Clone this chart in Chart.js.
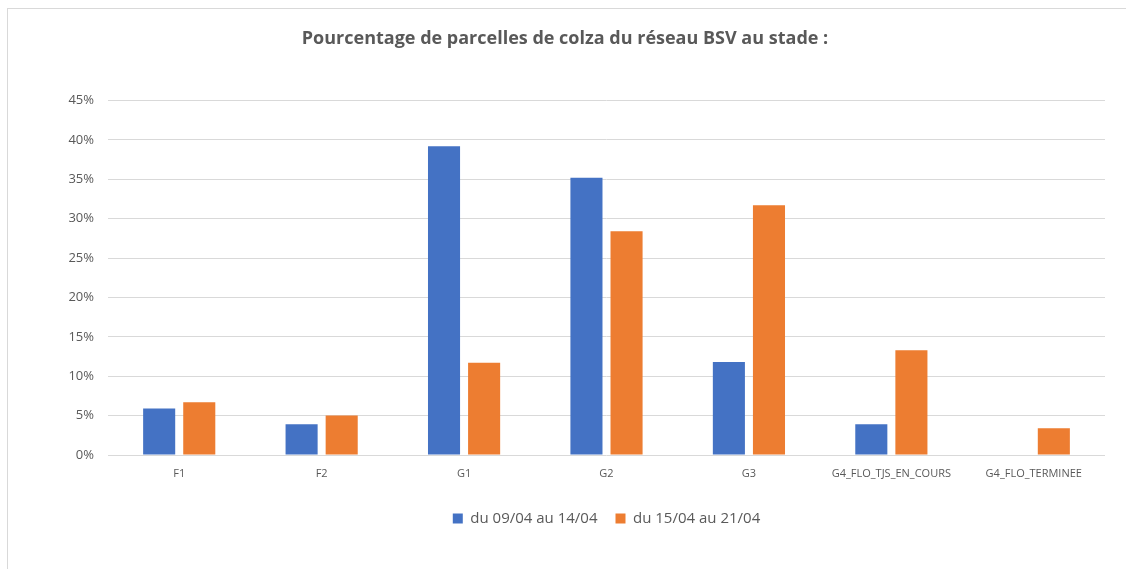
<!DOCTYPE html>
<html>
<head>
<meta charset="utf-8">
<script src="https://cdn.jsdelivr.net/npm/chart.js@4"></script>
<style>
  html, body { margin: 0; padding: 0; background: #fff; overflow: hidden; }
  #frame {
    position: absolute; left: 7px; top: 8px; width: 1130px; height: 570px;
    border-left: 1px solid #d9d9d9; border-top: 1px solid #d9d9d9;
  }
  #wrap { position: absolute; left: 0; top: 0; width: 1126px; height: 569px; }
</style>
</head>
<body>
<div id="frame"></div>
<div id="wrap"><canvas id="chart"></canvas></div>
<script>
// stades
const categories = ['F1', 'F2', 'G1', 'G2', 'G3', 'G4_FLO_TJS_EN_COURS', 'G4_FLO_TERMINEE']
const seriesNames = ['du 09/04 au 14/04', 'du 15/04 au 21/04']
// % de parcelles
const week1 = [5.9, 3.9, 39.2, 35.2, 11.8, 3.9, 0]
const week2 = [6.7, 5.0, 11.7, 28.4, 31.7, 13.3, 3.4]
const yTicks = [0, 5, 10, 15, 20, 25, 30, 35, 40, 45]

const grey = '#595959'
const font = "'Open Sans', 'Liberation Sans', sans-serif"

const data = {
    labels: categories,
    datasets: [{
        label: seriesNames[0],
        data: week1,
        backgroundColor: '#4472C4',
        categoryPercentage: 0.563,
        barPercentage: 0.8
    }, {
        label: seriesNames[1],
        data: week2,
        backgroundColor: '#ED7D31',
        categoryPercentage: 0.563,
        barPercentage: 0.8
    }]
}

const config = {
    type: 'bar',
    data: data,
    options: {
        responsive: false,
        animation: false,
        layout: {
            padding: { left: 25, right: 21, top: 0, bottom: 33 }
        },
        plugins: {
            title: {
                display: true,
                text: 'Pourcentage de parcelles de colza du réseau BSV au stade :',
                color: grey,
                font: { family: font, size: 18, weight: 'bold' },
                padding: { top: 28, bottom: 51 }
            },
            legend: {
                position: 'bottom',
                fullSize: false,
                labels: {
                    color: grey,
                    boxWidth: 10,
                    boxHeight: 10,
                    padding: 18,
                    font: { family: font, size: 15 }
                }
            },
            tooltip: { enabled: false }
        },
        scales: {
            x: {
                grid: { display: false },
                border: { display: false },
                ticks: {
                    color: grey,
                    padding: 4,
                    maxRotation: 0,
                    autoSkip: false,
                    font: { family: font, size: 11 }
                },
                afterFit: scale => { scale.height = 38 }
            },
            y: {
                min: 0,
                max: 45,
                afterBuildTicks: scale => {
                    scale.ticks = yTicks.map(v => ({ value: v }))
                },
                grid: { color: '#d9d9d9', drawTicks: false },
                border: { display: false },
                ticks: {
                    color: grey,
                    padding: 14,
                    font: { family: font, size: 13 },
                    callback: v => v + '%'
                },
                afterFit: scale => { scale.width = 83 }
            }
        }
    }
}

const canvas = document.getElementById('chart')
canvas.width = 1126
canvas.height = 569
new Chart(canvas, config)
</script>
</body>
</html>
